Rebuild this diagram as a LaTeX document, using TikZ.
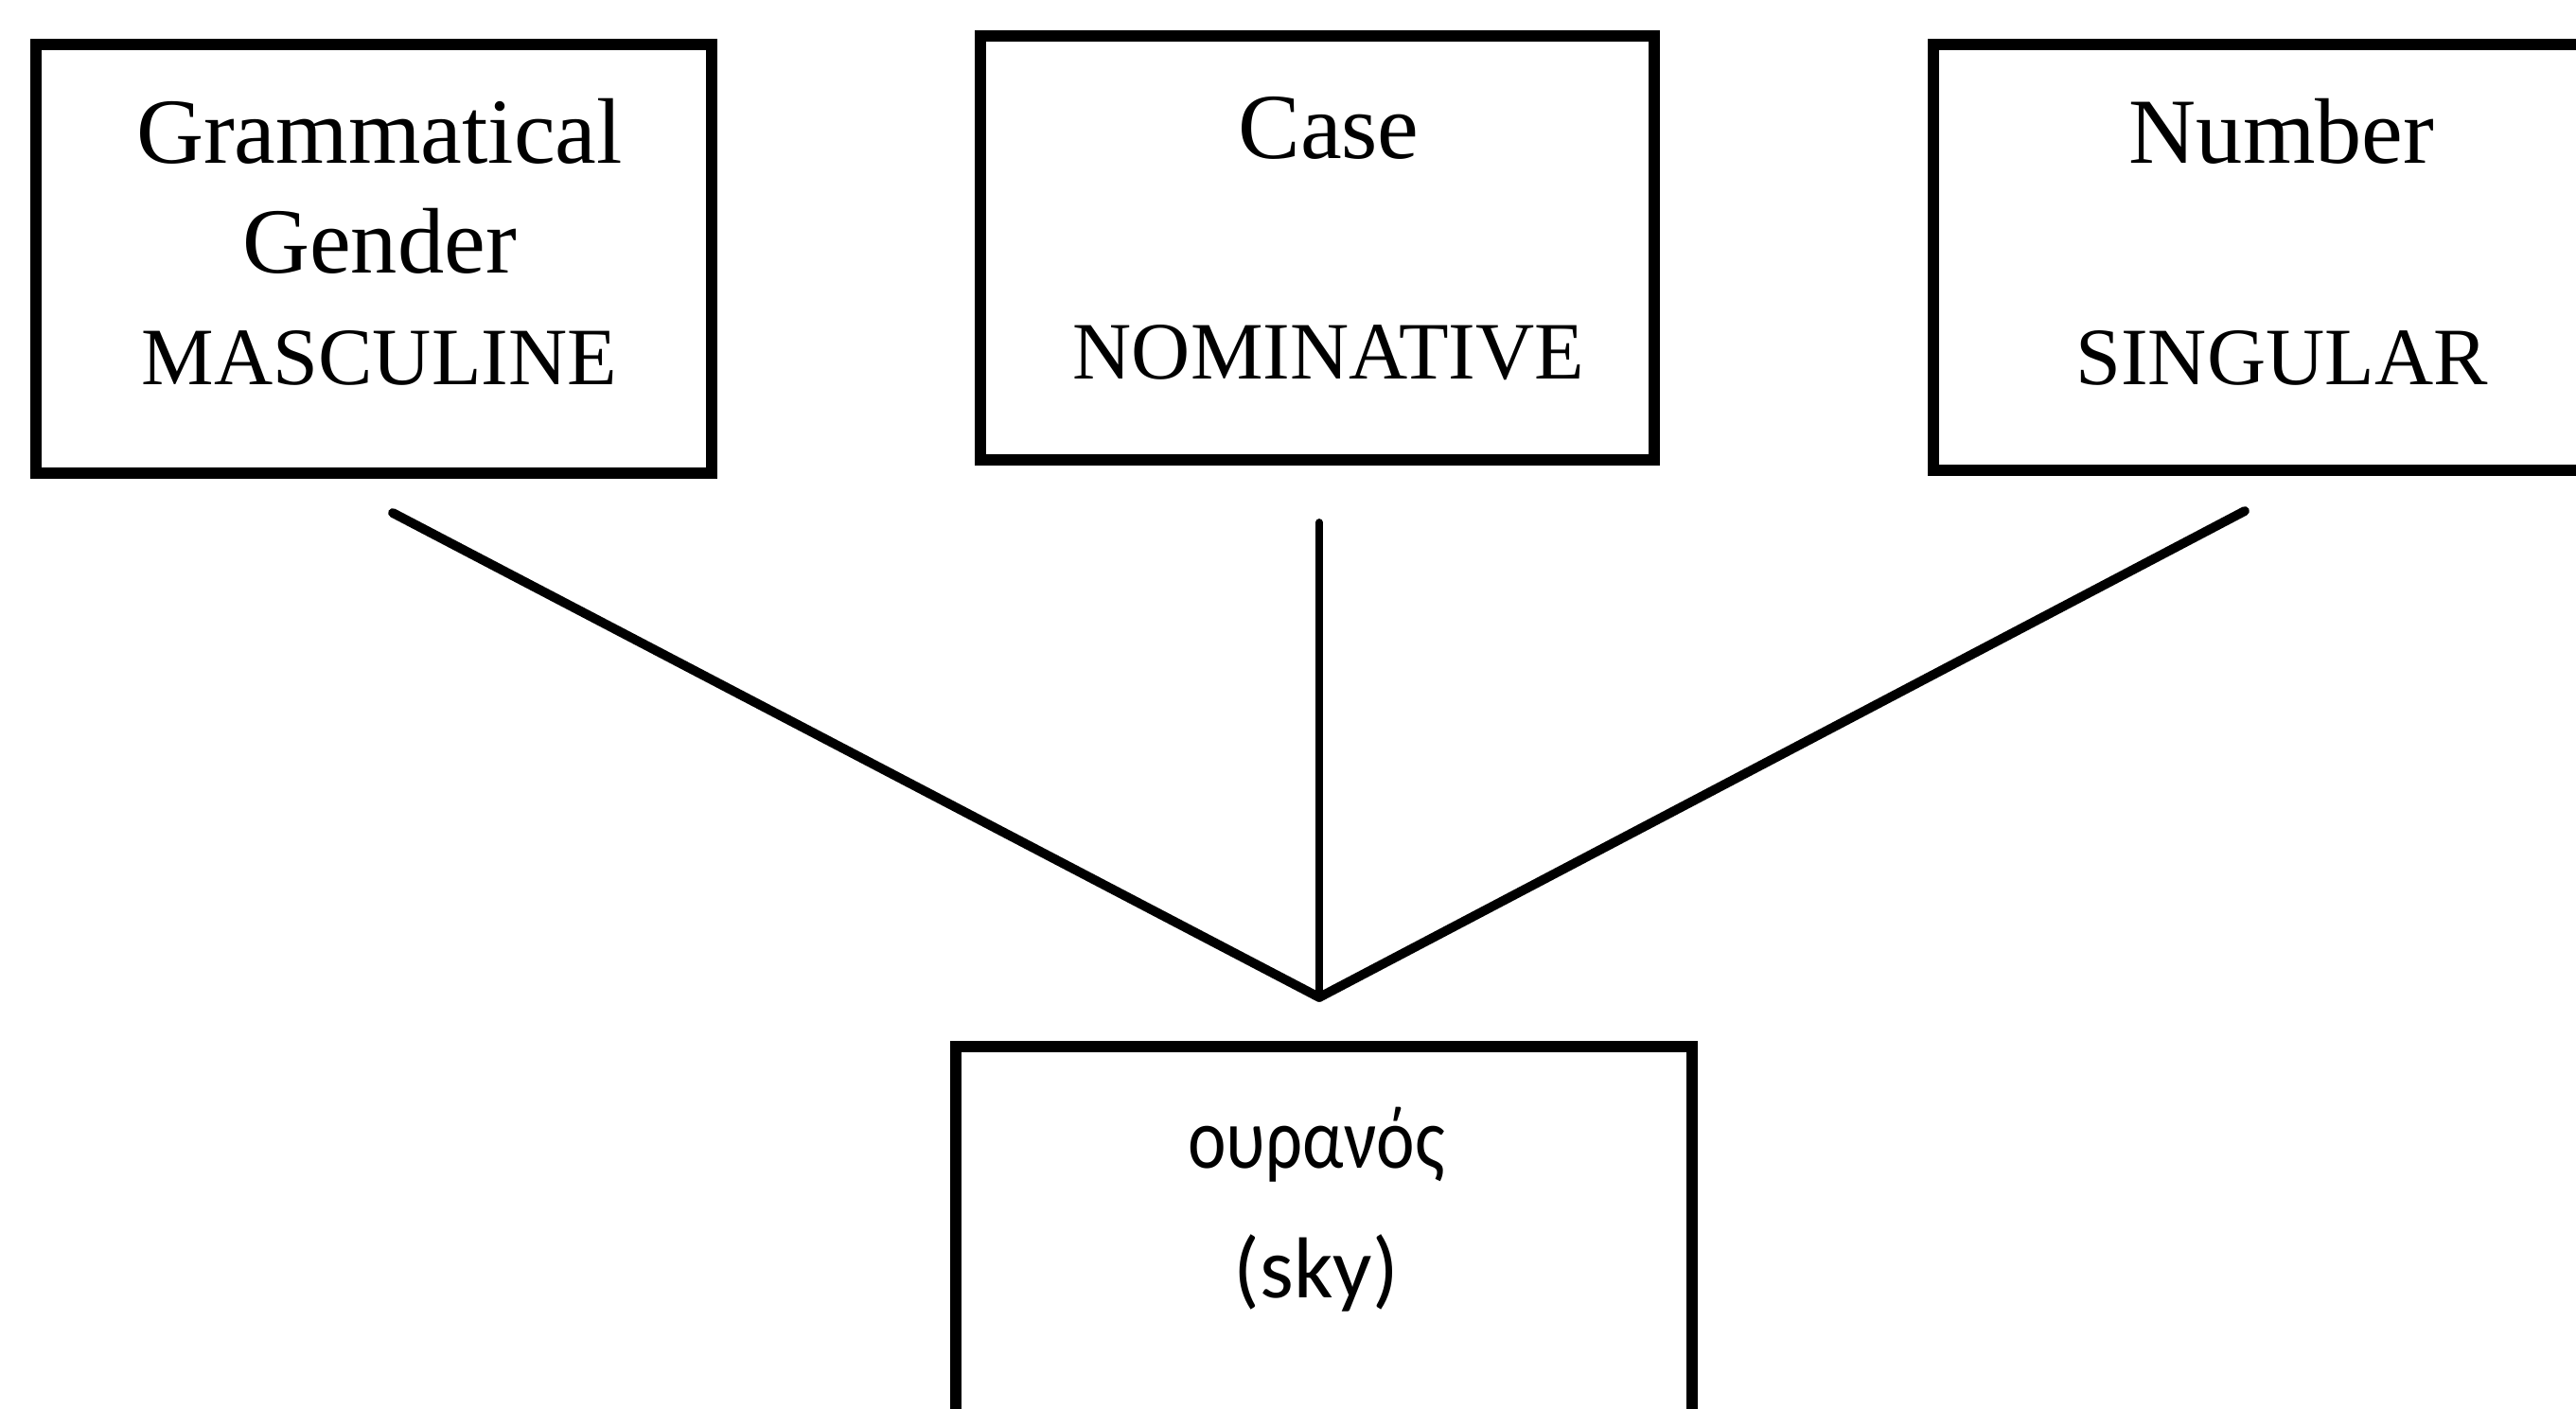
\documentclass[tikz,border=0pt]{standalone}
\usepackage{graphicx}
\usepackage{fontspec}
\setmainfont{Liberation Serif}
\newfontfamily\greekfont{Carlito}
\begin{document}
\begin{tikzpicture}[
  box/.style={draw=black, line width=3.3pt, fill=none, inner sep=0pt},
  conn/.style={draw=black, line width=2.8pt, line cap=round},
  vconn/.style={draw=black, line width=2.2pt, line cap=round},
  ttltext/.style={inner sep=0pt, font=\fontsize{28}{33}\selectfont},
  capstext/.style={inner sep=0pt, font=\fontsize{24.5}{29}\selectfont},
  grktext/.style={inner sep=0pt, font=\greekfont\fontsize{26}{31}\selectfont},
  skytext/.style={inner sep=0pt, font=\greekfont\fontsize{26}{31}\selectfont}
]
\useasboundingbox (0,0) rectangle (27.22,14.88);
\clip (0,0) rectangle (27.22,14.88);
\fill[white] (0,0) rectangle (27.22,14.88);

% boxes
\node[box, minimum width=7.14cm, minimum height=4.53cm] (b1) at (3.95,12.145) {};
\node[box, minimum width=7.12cm, minimum height=4.48cm] (b2) at (13.92,12.26) {};
\node[box, minimum width=7.20cm, minimum height=4.50cm] (b3) at (24.03,12.16) {};
\node[box, minimum width=7.78cm, minimum height=4.80cm] (b4) at (13.99,1.42) {};

% texts
\node[ttltext] (t1a) at (4.01,13.49) {Grammatical};
\node[ttltext] (t1b) at (4.01,12.33) {Gender};
\node[capstext] (t1c) at (4.01,11.10) {MASCULINE};
\node[ttltext] (t2a) at (14.04,13.53) {Case};
\node[capstext] (t2b) at (14.04,11.15) {NOMINATIVE};
\node[ttltext] (t3a) at (24.11,13.49) {Number};
\node[capstext] (t3b) at (24.11,11.10) {SINGULAR};
\node[grktext] (t4a) at (13.91,2.78) {\scalebox{0.84}[1]{ουρανός}};
\node[skytext] (t4b) at (13.91,1.43) {(sky)};

% connectors
\coordinate (v) at (13.94,4.34);
\coordinate (s1) at (4.15,9.46);
\coordinate (s2) at (13.94,9.36);
\coordinate (s3) at (23.72,9.48);
\draw[conn] (s1) -- (v);
\draw[vconn] (s2) -- (v);
\draw[conn] (s3) -- (v);
\end{tikzpicture}
\end{document}
